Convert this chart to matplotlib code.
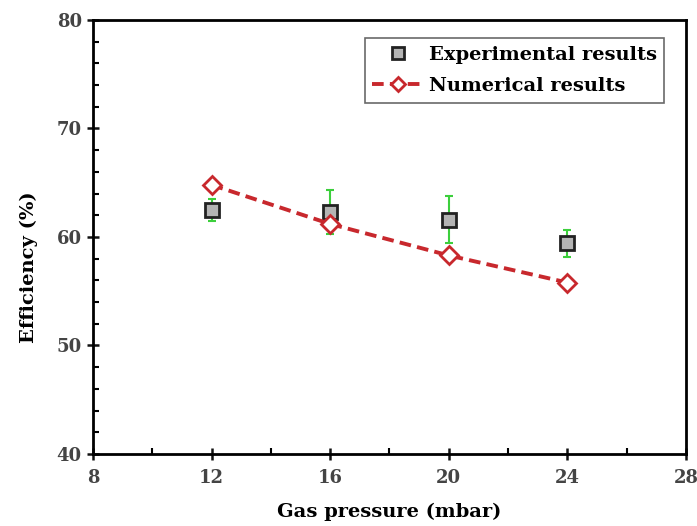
import matplotlib.pyplot as plt
from matplotlib.ticker import MultipleLocator

# 数据
pressure = [12, 16, 20, 24]
exp_eff = [62.5, 62.3, 61.6, 59.4]
exp_err = [1.0, 2.0, 2.2, 1.2]
num_eff = [64.8, 61.2, 58.3, 55.8]

plt.rcParams['font.family'] = 'DejaVu Serif'
plt.rcParams['font.weight'] = 'bold'

fig = plt.figure(figsize=(6.97, 5.26), dpi=100)
ax = fig.add_axes([0.1334, 0.1369, 0.8508, 0.8251])

ax.errorbar(pressure, exp_eff, yerr=exp_err, fmt='none', ecolor='#3ccf3c',
            elinewidth=1.5, capsize=3, capthick=1.5, zorder=2)
ax.plot(pressure, exp_eff, 's', color='#b4b4b4', markeredgecolor='#222222',
        markeredgewidth=2, markersize=10, label='Experimental results', zorder=3)
ax.plot(pressure, num_eff, '--D', color='#c8282d', linewidth=2.8, dashes=(3, 1.6),
        markerfacecolor='white', markeredgecolor='#c8282d', markeredgewidth=2,
        markersize=9.5, label='Numerical results', zorder=4)

ax.set_xlim(8, 28)
ax.set_ylim(40, 80)
ax.xaxis.set_major_locator(MultipleLocator(4))
ax.xaxis.set_minor_locator(MultipleLocator(2))
ax.yaxis.set_major_locator(MultipleLocator(10))
ax.yaxis.set_minor_locator(MultipleLocator(2))
ax.tick_params(which='major', direction='inout', length=9, width=1.8, labelsize=13,
               colors='#111111', labelcolor='#444444')
ax.tick_params(which='minor', direction='in', length=4, width=1.5)
ax.tick_params(axis='x', pad=6)
for s in ax.spines.values():
    s.set_linewidth(2)

ax.set_xlabel('Gas pressure (mbar)', fontsize=14, fontweight='bold', labelpad=12)
ax.set_ylabel('Efficiency (%)', fontsize=14, fontweight='bold')
ax.yaxis.set_label_coords(-0.093, 0.43)

leg = ax.legend(loc='upper right', bbox_to_anchor=(0.963, 0.958), fontsize=14,
                frameon=True, fancybox=False, edgecolor='#444444', handlelength=2.6,
                handletextpad=0.3, borderpad=0.38, labelspacing=0.7, markerscale=0.8,
                borderaxespad=0)
leg.get_frame().set_linewidth(1.2)

fig.savefig('out.png', dpi=100)
